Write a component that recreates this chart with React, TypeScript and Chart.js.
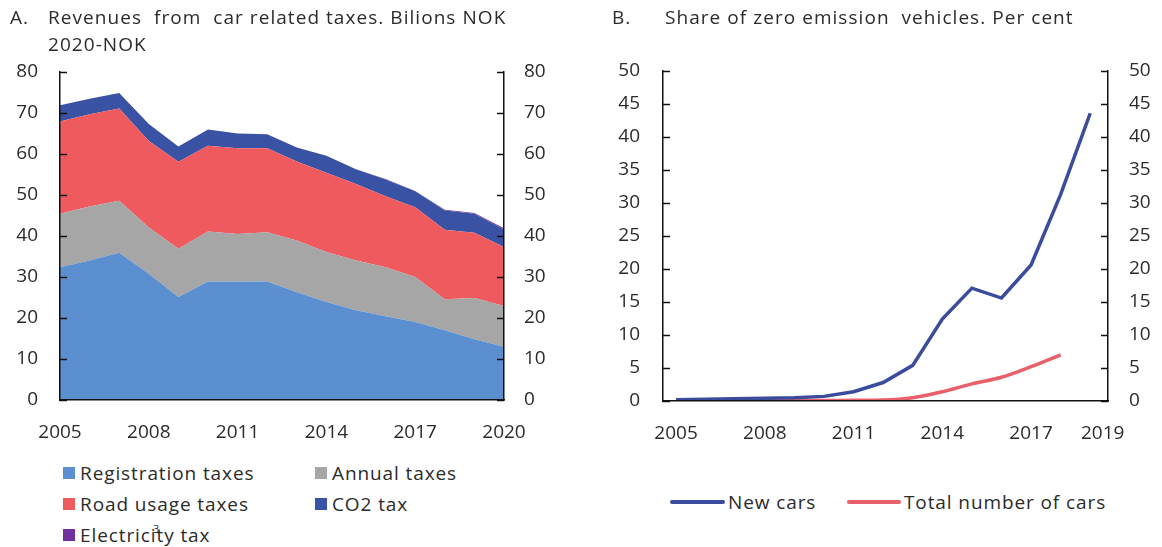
import React, { useEffect, useRef } from "react";
import { Chart, registerables } from "chart.js";

Chart.register(...registerables);

// ---------- Panel A data (billions NOK, 2020-NOK) ----------
const yearsA = [2005, 2006, 2007, 2008, 2009, 2010, 2011, 2012, 2013, 2014, 2015, 2016, 2017, 2018, 2019, 2020];
const registrationTaxes = [32.4, 34.0, 35.9, 30.8, 25.1, 28.9, 28.9, 28.9, 26.3, 23.9, 21.9, 20.4, 19.0, 17.0, 14.8, 13.0];
const annualTaxes = [13.0, 13.2, 12.7, 11.3, 11.8, 12.2, 11.6, 12.0, 12.6, 12.2, 12.1, 12.0, 11.0, 7.6, 10.1, 9.9];
const roadUsageTaxes = [22.5, 22.5, 22.5, 21.1, 21.2, 20.9, 20.9, 20.5, 19.3, 19.3, 18.7, 17.3, 17.0, 16.9, 15.9, 14.4];
const co2Tax = [4.0, 3.8, 3.8, 4.1, 3.7, 4.0, 3.6, 3.4, 3.4, 4.2, 3.6, 4.1, 3.9, 4.7, 4.6, 4.3];
const electricityTax = [0, 0, 0, 0, 0, 0, 0, 0, 0, 0, 0, 0.1, 0.1, 0.2, 0.2, 0.3];
const xTicksA = [2005, 2008, 2011, 2014, 2017, 2020];

// ---------- Panel B data (per cent) ----------
const yearsB = [2005, 2006, 2007, 2008, 2009, 2010, 2011, 2012, 2013, 2014, 2015, 2016, 2017, 2018, 2019];
const newCars = [0.2, 0.25, 0.35, 0.4, 0.5, 0.7, 1.4, 2.8, 5.4, 12.4, 17.1, 15.6, 20.6, 31.3, 43.6];
const totalCars = [0.05, 0.05, 0.05, 0.05, 0.05, 0.08, 0.1, 0.15, 0.5, 1.4, 2.6, 3.6, 5.2, 7.0];
const xTickLabelsB = ["2005", "2008", "2011", "2014", "2017", "2019"];
const xTickPosB = [2005, 2008, 2011, 2014, 2017, 2019.42];

const FONT = "'Open Sans', 'DejaVu Sans', sans-serif";
const TXT = "#2b2b2b";

const inwardTicks = {
  id: "inwardTicks",
  afterDatasetsDraw(chart: any) {
    const { ctx, chartArea } = chart;
    ctx.save();
    ctx.strokeStyle = "#111";
    ctx.lineWidth = 1.5;
    ["y", "y2"].forEach((id) => {
      const s = chart.scales[id];
      if (!s) return;
      s.ticks.forEach((t: any) => {
        const py = Math.round(s.getPixelForValue(t.value)) + 0.5;
        ctx.beginPath();
        if (id === "y") {
          ctx.moveTo(chartArea.left, py);
          ctx.lineTo(chartArea.left + 7, py);
        } else {
          ctx.moveTo(chartArea.right, py);
          ctx.lineTo(chartArea.right - 7, py);
        }
        ctx.stroke();
      });
    });
    ctx.restore();
  },
};

const tickFont = { family: FONT, size: 19 };

function yAxis(position: "left" | "right", max: number, step: number, width: number, padding: number, stacked = false) {
  return {
    type: "linear",
    position,
    min: 0,
    max,
    stacked,
    afterFit: (s: any) => {
      s.width = width;
    },
    grid: { display: true, drawOnChartArea: false, drawTicks: false },
    border: { display: true, color: "#111", width: 1.5, z: 1 },
    ticks: { stepSize: step, padding, color: TXT, font: tickFont },
  };
}

function PanelA() {
  const ref = useRef<HTMLCanvasElement>(null);
  useEffect(() => {
    const pts = (arr: number[]) => arr.map((v, i) => ({ x: yearsA[i], y: v }));
    const mk = (label: string, data: number[], color: string, fill: any) => ({
      label,
      data: pts(data),
      backgroundColor: color,
      borderColor: color,
      borderWidth: 0,
      pointRadius: 0,
      fill,
      yAxisID: "y",
    });
    const chart = new Chart(ref.current!, {
      type: "line",
      data: {
        datasets: [
          mk("Registration taxes", registrationTaxes, "#5b8fcf", "origin"),
          mk("Annual taxes", annualTaxes, "#a6a6a6", "-1"),
          mk("Road usage taxes", roadUsageTaxes, "#ef5a5f", "-1"),
          mk("CO2 tax", co2Tax, "#3a52a3", "-1"),
          mk("Electricity tax", electricityTax, "#7030a0", "-1"),
        ],
      },
      options: {
        animation: false,
        responsive: false,
        layout: { padding: { top: 72, left: 0, right: 0, bottom: 0 } },
        plugins: { legend: { display: false }, title: { display: false }, tooltip: { enabled: false } },
        scales: {
          x: {
            type: "linear",
            min: 2005,
            max: 2020,
            afterFit: (s: any) => {
              s.height = 50;
            },
            afterBuildTicks: (s: any) => {
              s.ticks = xTicksA.map((v) => ({ value: v }));
            },
            grid: { display: true, drawOnChartArea: false, drawTicks: false },
            border: { display: true, color: "#111", width: 1.5, z: 1 },
            ticks: { padding: 21, color: TXT, font: tickFont, maxRotation: 0, callback: (v: any) => String(v) },
          },
          y: yAxis("left", 80, 10, 60, 22, true),
          y2: yAxis("right", 80, 10, 76, 20),
        } as any,
      },
      plugins: [inwardTicks],
    } as any);
    return () => chart.destroy();
  }, []);
  return <canvas ref={ref} width={580} height={450} style={{ position: "absolute", left: 0, top: 0, width: 580, height: 450 }} />;
}

function PanelB() {
  const ref = useRef<HTMLCanvasElement>(null);
  useEffect(() => {
    const chart = new Chart(ref.current!, {
      type: "line",
      data: {
        datasets: [
          {
            label: "New cars",
            data: newCars.map((v, i) => ({ x: yearsB[i], y: v })),
            borderColor: "#3b4c9c",
            borderWidth: 3.5,
            pointRadius: 0,
            fill: false,
            yAxisID: "y",
          },
          {
            label: "Total number of cars",
            data: totalCars.map((v, i) => ({ x: yearsB[i], y: v })),
            borderColor: "#e8606a",
            borderWidth: 3.5,
            pointRadius: 0,
            fill: false,
            cubicInterpolationMode: "monotone",
            yAxisID: "y",
          },
        ],
      },
      options: {
        animation: false,
        responsive: false,
        layout: { padding: { top: 71, left: 0, right: 0, bottom: 0 } },
        plugins: { legend: { display: false }, title: { display: false }, tooltip: { enabled: false } },
        scales: {
          x: {
            type: "linear",
            min: 2004.56,
            max: 2019.6,
            afterFit: (s: any) => {
              s.height = 49;
            },
            afterBuildTicks: (s: any) => {
              s.ticks = xTickPosB.map((v) => ({ value: v }));
            },
            grid: { display: true, drawOnChartArea: false, drawTicks: false },
            border: { display: true, color: "#111", width: 1.5, z: 1 },
            ticks: {
              padding: 21,
              color: TXT,
              font: tickFont,
              maxRotation: 0,
              callback: (_v: any, i: number) => xTickLabelsB[i],
            },
          },
          y: yAxis("left", 50, 5, 63, 23),
          y2: yAxis("right", 50, 5, 54, 21),
        } as any,
      },
      plugins: [inwardTicks],
    } as any);
    return () => chart.destroy();
  }, []);
  return <canvas ref={ref} width={562} height={450} style={{ position: "absolute", left: 600, top: 0, width: 562, height: 450 }} />;
}

const legendA = [
  { label: "Registration taxes", color: "#5b8fcf", x: 63, y: 473 },
  { label: "Annual taxes", color: "#a6a6a6", x: 315, y: 473 },
  { label: "Road usage taxes", color: "#ef5a5f", x: 63, y: 504 },
  { label: "CO2 tax", color: "#3a52a3", x: 315, y: 504 },
  { label: "Electricity tax", color: "#7030a0", x: 63, y: 535 },
];

const legendB = [
  { label: "New cars", color: "#3b4c9c", x: 670, w: 55 },
  { label: "Total number of cars", color: "#e8606a", x: 847, w: 54 },
];

export default function App() {
  const txt: React.CSSProperties = { position: "absolute", fontFamily: FONT, color: TXT, whiteSpace: "pre", fontSize: 19, lineHeight: "27px", letterSpacing: 1.05 };
  const leg: React.CSSProperties = { ...txt, fontSize: 19, letterSpacing: 0.9, lineHeight: "28px" };
  return (
    <div style={{ position: "fixed", left: 0, top: 0, width: 1162, height: 547, background: "#fff", overflow: "hidden" }}>
      <PanelA />
      <PanelB />
      <div style={{ ...txt, left: 10, top: 4 }}>A.</div>
      <div style={{ ...txt, left: 48, top: 4 }}>{"Revenues  from  car related taxes. Bilions NOK\n2020-NOK"}</div>
      <div style={{ ...txt, left: 612, top: 4 }}>B.</div>
      <div style={{ ...txt, left: 665, top: 4 }}>{"Share of zero emission  vehicles. Per cent"}</div>
      {legendA.map((l) => (
        <React.Fragment key={l.label}>
          <div style={{ position: "absolute", left: l.x, top: l.y - 6, width: 12, height: 12, background: l.color }} />
          <div style={{ ...leg, left: l.x + 17, top: l.y - 14 }}>{l.label}</div>
        </React.Fragment>
      ))}
      <div style={{ ...txt, fontSize: 11, letterSpacing: 0, left: 153, top: 523, lineHeight: "12px" }}>3</div>
      {legendB.map((l) => (
        <React.Fragment key={l.label}>
          <div style={{ position: "absolute", left: l.x, top: 500, width: l.w, height: 4, background: l.color, borderRadius: 2 }} />
          <div style={{ ...leg, left: l.x + l.w + 3, top: 488 }}>{l.label}</div>
        </React.Fragment>
      ))}
    </div>
  );
}
